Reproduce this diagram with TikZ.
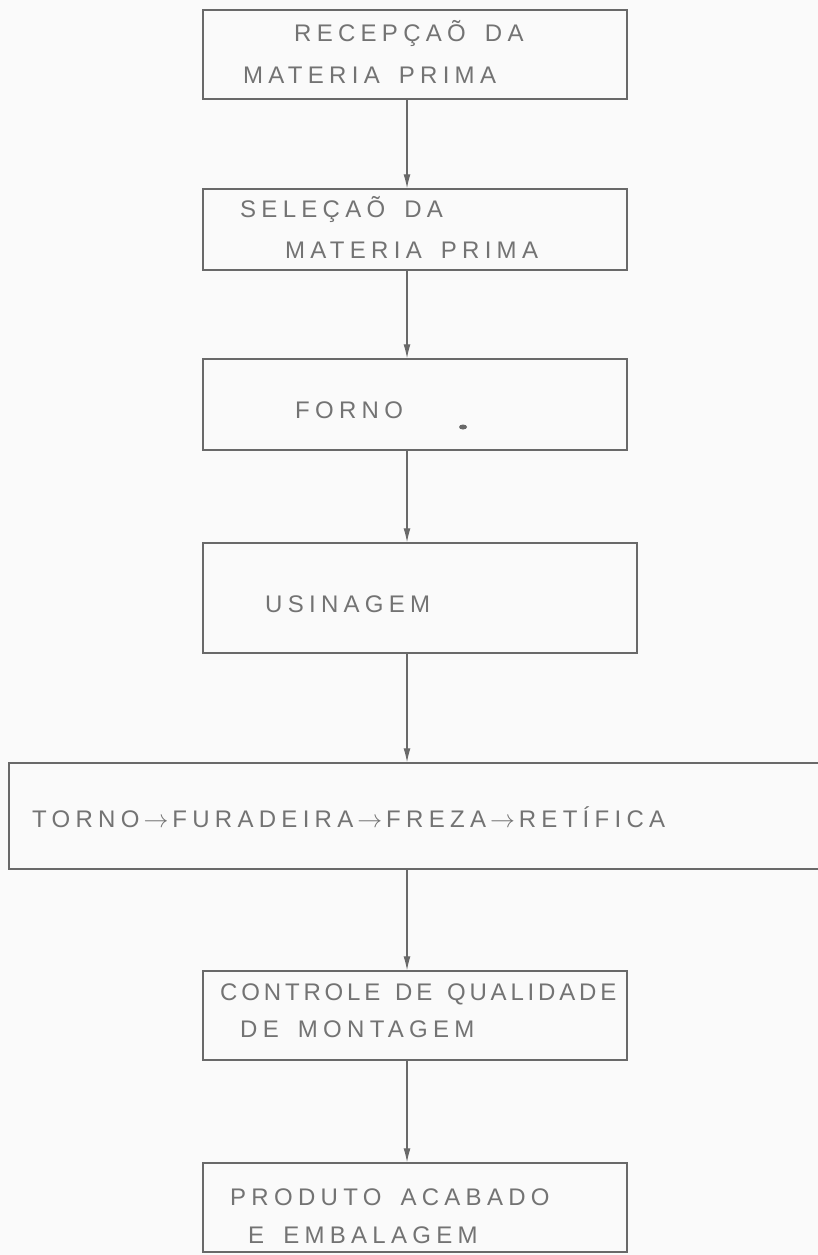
\documentclass[tikz,border=0pt]{standalone}
\usepackage{fontspec}
\setmainfont{Liberation Sans}
\newfontfamily\lapis{Liberation Sans}[LetterSpace=22, WordSpace=1.6]
\newfontfamily\lapisjusto{Liberation Sans}[LetterSpace=16, WordSpace=1.4]
\usetikzlibrary{arrows.meta, positioning}
\definecolor{grafite}{RGB}{105,105,105}
\definecolor{grafitetxt}{RGB}{115,115,115}
\newcommand{\seta}{\,$\rightarrow$\,}
\tikzset{
  etapa/.style={draw=grafite, line width=1.3pt, inner sep=0pt, minimum width=424pt},
  rotulo/.style={anchor=base west, inner sep=0pt, text=grafitetxt, font=\lapis\fontsize{24}{28}\selectfont},
  fluxo/.style={-{Latex[length=14pt, width=7pt]}, draw=grafite, line width=1.2pt},
}

\begin{document}
\begin{tikzpicture}[x=1pt, y=-1pt]
  \fill[black!2] (0,0) rectangle (818,1255);
  \useasboundingbox (0,0) rectangle (818,1255);
  % etapas do processo
  \node[etapa, minimum height=89pt] (recep) at (415,54.5) {};
  \node[etapa, minimum height=81pt] (selec) at (415,229.5) {};
  \node[etapa, minimum height=91pt] (forno) at (415,404.5) {};
  \node[etapa, minimum height=110pt, minimum width=434pt] (usin) at (420,598) {};
  \node[etapa, minimum height=106pt, minimum width=821pt] (oper) at (419.5,816) {};
  \node[etapa, minimum height=89pt] (contr) at (415,1015.5) {};
  \node[etapa, minimum height=89pt] (prod) at (415,1207.5) {};
  \coordinate (eixo) at (407,0);
  \foreach \a/\b in {recep/selec,selec/forno,forno/usin,usin/oper,oper/contr,contr/prod}
    \draw[fluxo] (\a.south -| eixo) -- (\b.north -| eixo);
  % textos
  \node[rotulo] (recepA) at (294,42) {RECEPÇAÕ DA};
  \node[rotulo] (recepB) at (243,83) {MATERIA PRIMA};
  \node[rotulo] (selecA) at (240,217) {SELEÇAÕ DA};
  \node[rotulo] (selecB) at (285,258) {MATERIA PRIMA};
  \node[rotulo] (fornoT) at (295,418) {FORNO};
  \fill[grafite] (463,427) ellipse (4pt and 2.5pt);
  \node[rotulo] (usinT) at (265,612) {USINAGEM};
  \node[rotulo] (operT) at (32,827) {TORNO\seta FURADEIRA\seta FREZA\seta RETÍFICA};
  \node[rotulo, font=\lapisjusto\fontsize{24}{28}\selectfont] (contrA) at (220,1000) {CONTROLE DE QUALIDADE};
  \node[rotulo] (contrB) at (240,1037) {DE MONTAGEM};
  \node[rotulo] (prodA) at (230,1205) {PRODUTO ACABADO};
  \node[rotulo] (prodB) at (248,1243) {E EMBALAGEM};
\end{tikzpicture}
\end{document}
